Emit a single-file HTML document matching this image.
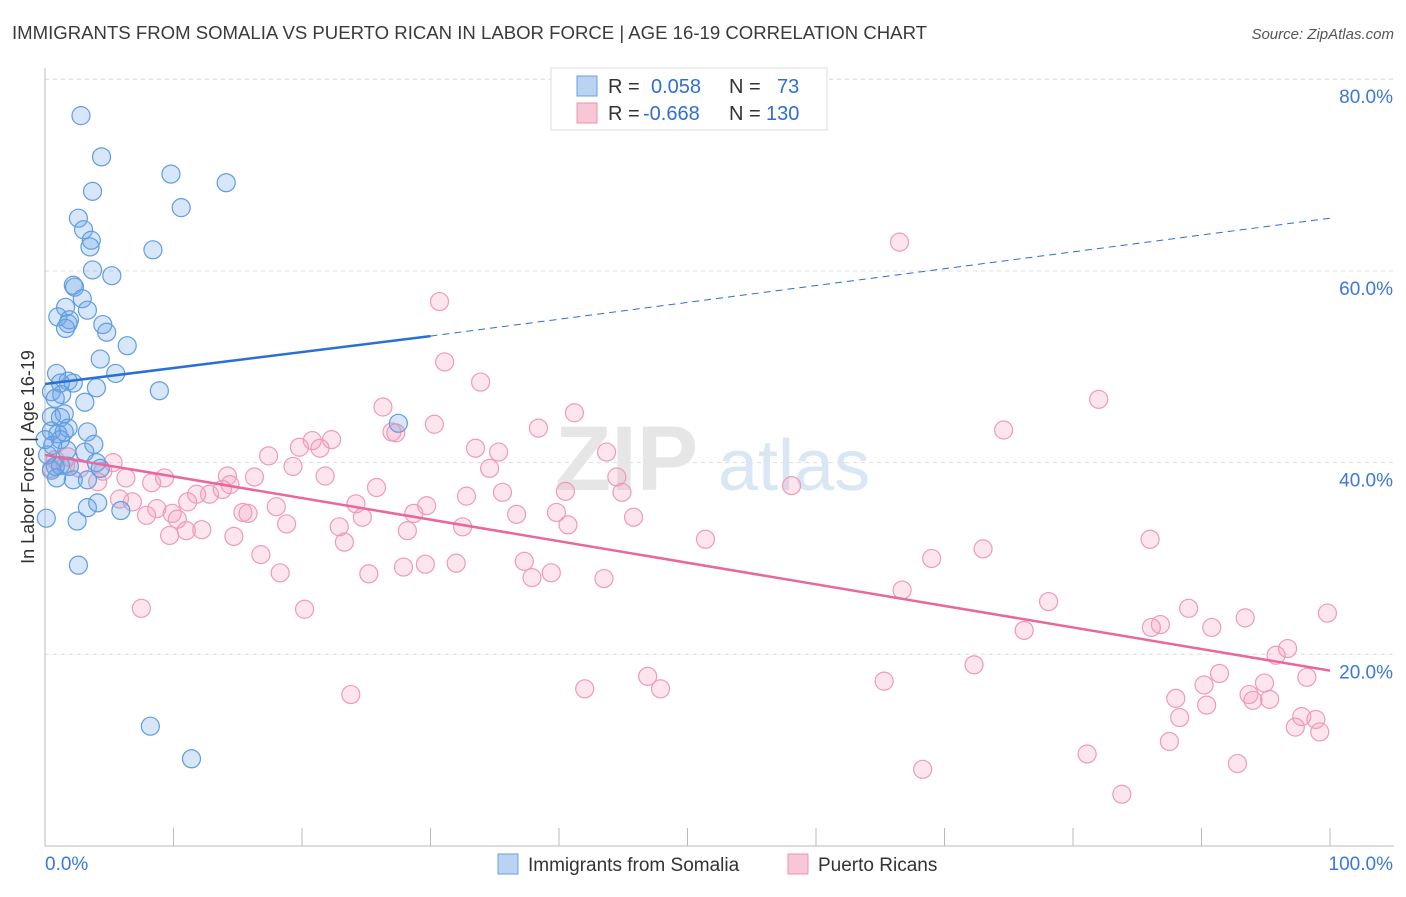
<!DOCTYPE html>
<html><head><meta charset="utf-8"><style>
body{margin:0;background:#fff;font-family:"Liberation Sans",sans-serif}
svg text{font-family:"Liberation Sans",sans-serif}
</style></head><body>
<svg id="chart" width="1406" height="892">
<text x="12" y="39" font-size="18" fill="#3a3a3a" textLength="915" lengthAdjust="spacingAndGlyphs">IMMIGRANTS FROM SOMALIA VS PUERTO RICAN IN LABOR FORCE | AGE 16-19 CORRELATION CHART</text>
<text x="1394" y="39" font-size="15" fill="#555" text-anchor="end" font-style="italic">Source: ZipAtlas.com</text>
<g id="grid"></g>
<g><text x="555" y="490" font-size="92" fill="#e6e6e6" font-family="Liberation Serif" font-weight="bold">ZIP</text><text x="718" y="490" font-size="72" fill="#d9e6f4">atlas</text></g>
<g id="axes"></g>
<g id="pts"></g>
<g id="lines"></g>
<text transform="translate(34,457) rotate(-90)" font-size="18" fill="#333" text-anchor="middle">In Labor Force | Age 16-19</text>
<g>
<rect x="551" y="68" width="276" height="62" fill="#fff" stroke="#ddd"/>
<rect x="577" y="76" width="20" height="20" fill="#b9d3f3" stroke="#6a9fe0"/>
<rect x="577" y="103" width="20" height="20" fill="#f8c7d6" stroke="#ee92b2"/>
<text x="608" y="93" font-size="20" fill="#333">R = </text><text x="651" y="93" font-size="20" fill="#2f6fd0">0.058</text>
<text x="729" y="93" font-size="20" fill="#333">N = </text><text x="777" y="93" font-size="20" fill="#2f6fd0">73</text>
<text x="608" y="120" font-size="20" fill="#333">R = </text><text x="643" y="120" font-size="20" fill="#2f6fd0">-0.668</text>
<text x="729" y="120" font-size="20" fill="#333">N = </text><text x="766" y="120" font-size="20" fill="#2f6fd0">130</text>
</g>
<g>
<rect x="498" y="854" width="20" height="20" fill="#b9d3f3" stroke="#6a9fe0"/>
<text x="528" y="871" font-size="19" fill="#333">Immigrants from Somalia</text>
<rect x="788" y="854" width="20" height="20" fill="#f8c7d6" stroke="#ee92b2"/>
<text x="818" y="871" font-size="19" fill="#333">Puerto Ricans</text>
</g>
</svg>
<script>
const yTicks=[20,40,60,80];
const yTickLabels=["20.0%","40.0%","60.0%","80.0%"];
const xTicks=[0,10,20,30,40,50,60,70,80,90,100];
const xTickLabels=["0.0%","100.0%"];
const blueX=[2.8,4.4,3.7,9.8,14.1,10.6,2.6,3.0,3.6,3.5,8.4,3.7,5.2,2.2,2.3,2.9,1.6,3.3,1.0,1.9,1.8,1.6,4.5,4.8,6.4,4.3,5.5,0.9,1.8,2.2,1.2,4.0,8.9,0.5,1.3,0.8,3.1,1.5,0.5,1.2,27.5,1.8,0.5,1.5,1.0,3.3,3.8,0.6,1.7,3.1,4.0,4.3,1.2,0.5,0.9,2.2,3.3,3.3,4.1,5.9,2.5,0.1,2.6,8.2,11.4,0.2,1.9,0.8,1.2,0];
const blueY=[76.2,71.9,68.3,70.1,69.2,66.6,65.5,64.3,63.2,62.5,62.2,60.1,59.5,58.5,58.3,57.1,56.2,55.9,55.2,54.9,54.5,54.0,54.4,53.6,52.2,50.8,49.3,49.3,48.5,48.3,48.3,47.8,47.5,47.4,47.1,46.7,46.3,45.1,44.8,44.7,44.1,43.6,43.3,43.2,43.0,43.2,41.9,41.8,41.3,41.1,40.0,39.4,39.7,39.2,38.4,38.2,38.2,35.3,35.8,35.0,33.9,34.2,29.3,12.5,9.1,40.8,39.6,39.6,42.4,42.4];
const pinkX=[66.5,30.7,31.1,33.9,82.0,26.3,41.2,30.3,38.4,74.6,27.0,27.3,22.3,20.8,19.8,21.4,17.4,33.5,35.3,43.7,0.8,1.8,0.5,1.6,5.3,4.5,2.7,19.3,34.6,9.3,14.2,16.3,6.3,8.3,21.8,44.5,25.8,14.4,13.8,35.6,32.8,40.5,44.9,4.1,58.1,12.8,11.8,11.1,5.8,6.8,24.2,29.7,8.7,15.4,15.8,18.0,9.9,7.9,10.3,24.7,28.7,39.8,45.8,36.7,32.5,40.7,18.8,28.2,22.9,12.2,14.7,11.0,9.7,23.3,51.4,73.0,86.0,16.8,69.0,37.3,32.0,29.6,27.9,18.3,25.2,39.4,37.9,43.5,66.7,78.1,89.0,7.5,20.2,93.4,99.8,86.8,86.1,90.8,76.2,96.7,95.8,72.3,91.4,98.2,46.9,65.3,90.2,94.9,47.9,42.0,23.8,88.0,93.7,95.3,94.0,90.4,88.3,97.8,98.9,97.3,99.2,87.5,81.1,92.8,68.3,83.8];
const pinkY=[63.0,56.8,50.5,48.4,46.6,45.8,45.2,44.0,43.6,43.4,43.2,43.1,42.4,42.3,41.6,41.5,40.7,41.5,41.1,41.1,40.3,40.6,39.4,39.7,40.0,39.1,39.4,39.6,39.4,38.4,38.6,38.5,38.4,37.9,38.6,38.5,37.4,37.7,37.2,36.9,36.5,37.0,36.9,38.0,37.6,36.7,36.7,35.9,36.2,35.9,35.7,35.5,35.2,34.8,34.7,35.4,34.7,34.5,34.1,34.3,34.7,34.8,34.3,34.6,33.3,33.5,33.6,32.9,33.3,33.0,32.3,32.9,32.4,31.7,32.0,31.0,32.0,30.4,30.0,29.7,29.5,29.4,29.1,28.5,28.4,28.5,28.0,27.9,26.7,25.5,24.8,24.8,24.7,23.8,24.3,23.1,22.8,22.8,22.5,20.6,19.9,18.9,18.0,17.6,17.7,17.2,16.8,17.0,16.4,16.4,15.8,15.4,15.8,15.3,15.2,14.7,13.4,13.5,13.2,12.4,11.9,10.9,9.6,8.6,8.0,5.4];
const blueLineX=[0,30,100];
const blueLineY=[48.2,53.2,65.5];
const pinkLineX=[0,100];
const pinkLineY=[40.8,18.3];

const NS="http://www.w3.org/2000/svg";
const X0=45,X1=1330,Y0=846,YS=9.585;
const sx=v=>X0+(X1-X0)*v/100;
const sy=v=>Y0-v*YS;
function mk(t,a,p){const e=document.createElementNS(NS,t);for(const k in a)e.setAttribute(k,a[k]);p.appendChild(e);return e;}
const grid=document.getElementById('grid'),axes=document.getElementById('axes');
mk('line',{x1:X0,x2:1394,y1:sy(80),y2:sy(80),stroke:'#ddd','stroke-dasharray':'4,4'},grid);
yTicks.forEach((t,i)=>{
  const l=mk('line',{x1:X0,x2:1394,y1:sy(t),y2:sy(t),stroke:'#ddd','stroke-dasharray':'4,4'},grid);
  
  
  const tx=mk('text',{x:1393,y:sy(t)+24,'font-size':19,fill:'#3b78d8','text-anchor':'end'},axes);
  tx.textContent=yTickLabels[i];
  
  
});
mk('line',{x1:X0,x2:X0,y1:68,y2:Y0,stroke:'#bbb'},axes);
mk('line',{x1:X0,x2:1394,y1:Y0,y2:Y0,stroke:'#bbb'},axes);
xTicks.forEach(t=>{
  const l=mk('line',{x1:sx(t),x2:sx(t),y1:828,y2:Y0,stroke:'#bbb'},axes);
  
  
});
[[0,'start',45],[100,'end',1393]].forEach((d,i)=>{
  const tx=mk('text',{x:d[2],y:870,'font-size':19,fill:'#3b78d8','text-anchor':d[1]},axes);
  tx.textContent=xTickLabels[i];
  
  
});
const pts=document.getElementById('pts');
pinkX.forEach((x,i)=>{
  const c=mk('circle',{cx:sx(x),cy:sy(pinkY[i]),r:9,fill:'rgba(243,160,190,0.28)',stroke:'#ef9ab8','stroke-width':1.2},pts);
  
  
});
blueX.forEach((x,i)=>{
  const c=mk('circle',{cx:sx(x),cy:sy(blueY[i]),r:9,fill:'rgba(110,165,230,0.28)',stroke:'#5f9de2','stroke-width':1.2},pts);
  
  
});
const lines=document.getElementById('lines');
const b1=mk('line',{x1:sx(blueLineX[0]),y1:sy(blueLineY[0]),x2:sx(blueLineX[1]),y2:sy(blueLineY[1]),stroke:'#2b6fd6','stroke-width':2.5},lines);


const b2=mk('line',{x1:sx(blueLineX[1]),y1:sy(blueLineY[1]),x2:sx(blueLineX[2]),y2:sy(blueLineY[2]),stroke:'#2b6fd6','stroke-width':1,'stroke-dasharray':'7,5'},lines);


const p1=mk('line',{x1:sx(pinkLineX[0]),y1:sy(pinkLineY[0]),x2:sx(pinkLineX[1]),y2:sy(pinkLineY[1]),stroke:'#e9679a','stroke-width':2.5},lines);


</script>
</body></html>
